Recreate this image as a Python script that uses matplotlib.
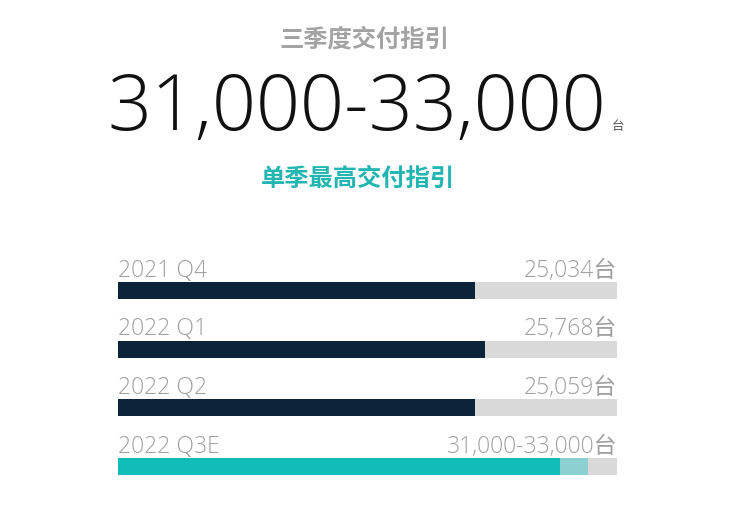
import matplotlib
matplotlib.use("Agg")
import matplotlib.pyplot as plt

categories = ["2021 Q4", "2022 Q1", "2022 Q2", "2022 Q3E"]
values_low = [25034, 25768, 25059, 31000]
values_high = [25034, 25768, 25059, 33000]
value_labels = ["25,034台", "25,768台", "25,059台", "31,000-33,000台"]
axis_max = 35000

title = "三季度交付指引"
headline = "31,000-33,000"
unit = "台"
subtitle = "单季最高交付指引"

W, H = 744, 532
fig = plt.figure(figsize=(W / 100, H / 100), dpi=100)
fig.patch.set_facecolor("white")

LAT = ["Open Sans", "Noto Sans CJK SC", "DejaVu Sans"]
CJK = ["Noto Sans CJK SC", "DejaVu Sans"]

def fx(px):
    return px / W

def fy(py):
    return 1 - py / H

fig.text(fx(364), fy(40), title, ha="center", va="center", fontsize=17.5,
         fontweight="bold", color="#a3a3a3", family=CJK)
fig.text(fx(606), fy(130), headline, ha="right", va="baseline", fontsize=55.5,
         fontweight="light", color="#111111", family=LAT)
fig.text(fx(612), fy(130), unit, ha="left", va="baseline", fontsize=9,
         color="#555555", family=CJK)
fig.text(fx(358), fy(179), subtitle, ha="center", va="center", fontsize=17.5,
         fontweight="bold", color="#22b5b1", family=CJK)

ax = fig.add_axes([118 / W, 0.0789, 499 / W, 0.4578])
ax.set_xlim(0, axis_max)
ax.set_ylim(3.4, -0.75)
ax.axis("off")

bh = 0.29
ys = list(range(len(categories)))
ax.barh(ys, [axis_max] * len(ys), height=bh, color="#d9d9d9", left=0)
for i in ys:
    if values_high[i] != values_low[i]:
        ax.barh(i, values_high[i], height=bh, color="#8dd0d1")
        ax.barh(i, values_low[i], height=bh, color="#12bcb8")
    else:
        ax.barh(i, values_low[i], height=bh, color="#0c243a")
    ax.text(0, i - bh / 2 - 0.09, categories[i], ha="left", va="baseline",
            fontsize=16.5, fontweight="light", color="#a0a0a0", family=LAT)
    ax.text(axis_max, i - bh / 2 - 0.09, value_labels[i], ha="right", va="baseline",
            fontsize=16.5, fontweight="light", color="#a0a0a0", family=LAT)

fig.savefig("out.png", dpi=100)
